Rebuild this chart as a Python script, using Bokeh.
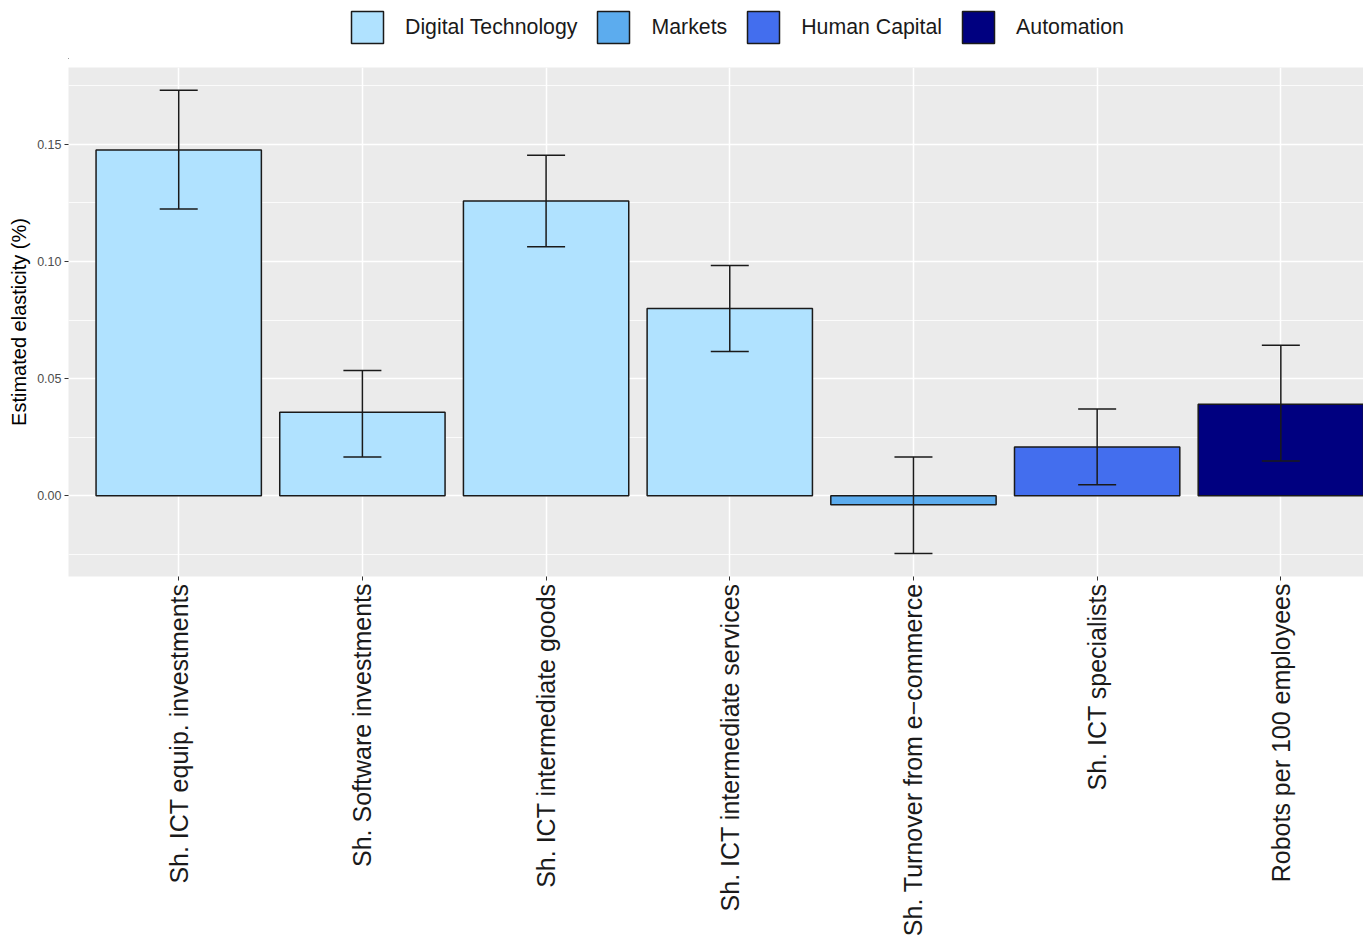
import numpy as np
from bokeh.plotting import figure
from bokeh.layouts import column
from bokeh.models import (ColumnDataSource, Whisker, TeeHead, Legend, LegendItem,
                          FixedTicker, NumeralTickFormatter)
from bokeh.embed import file_html
from bokeh.resources import INLINE

categories = ["Sh. ICT equip. investments", "Sh. Software investments",
              "Sh. ICT intermediate goods", "Sh. ICT intermediate services",
              "Sh. Turnover from e\u2212commerce", "Sh. ICT specialists",
              "Robots per 100 employees"]
groups = ["Digital Technology", "Digital Technology", "Digital Technology",
          "Digital Technology", "Markets", "Human Capital", "Automation"]
estimates = [0.1475, 0.0357, 0.1258, 0.0799, -0.0038, 0.0208, 0.0391]
lower = [0.1224, 0.0166, 0.1062, 0.0616, -0.0246, 0.0047, 0.0149]
upper = [0.1730, 0.0535, 0.1453, 0.0982, 0.0166, 0.0370, 0.0642]
group_names = ["Digital Technology", "Markets", "Human Capital", "Automation"]
group_colors = ["#B0E2FF", "#5CACEE", "#436EEE", "#000080"]

FONT = "Liberation Sans"
xs = list(range(1, len(categories) + 1))
color_map = dict(zip(group_names, group_colors))
src = ColumnDataSource(dict(x=xs, est=estimates, lo=lower, up=upper,
                            grp=groups, col=[color_map[g] for g in groups]))

# ---- legend strip (own figure so the legend is not clipped) ----
LEG_H = 59
lf = figure(width=1363, height=LEG_H, x_range=(100, 101), y_range=(100, 101),
            output_backend="svg", toolbar_location=None,
            x_axis_location=None, y_axis_location=None,
            min_border_left=0, min_border_right=0, min_border_top=0, min_border_bottom=0)
lf.outline_line_color = None
lf.grid.visible = False
lf.background_fill_color = "white"
lf.border_fill_color = "white"
leg_bars = lf.vbar(x="x", top="est", bottom=0, width=0.9, source=src,
                   fill_color="col", line_color="#1a1a1a", line_width=1.5)
items = [LegendItem(label=g, renderers=[leg_bars], index=groups.index(g)) for g in group_names]
legend = Legend(items=items, orientation="horizontal", location=(279, 12),
                glyph_width=40, glyph_height=40, label_standoff=18, spacing=16,
                label_text_font=FONT, label_text_font_size="21.3px",
                label_text_color="#1a1a1a", border_line_color=None,
                background_fill_color=None, padding=0, margin=0)
lf.add_layout(legend, "center")

# ---- main plot ----
p = figure(width=1363, height=939 - LEG_H, x_range=(0.4, 7.45), y_range=(-0.0344, 0.1827),
           output_backend="svg", toolbar_location=None,
           min_border_left=68, min_border_right=0, min_border_top=67 - LEG_H,
           min_border_bottom=361)
p.border_fill_color = "white"
p.outline_line_color = None
p.background_fill_color = "#EBEBEB"

bars = p.vbar(x="x", top="est", bottom=0, width=0.9, source=src,
              fill_color="col", line_color="#1a1a1a", line_width=1.5)

w = Whisker(base="x", upper="up", lower="lo", source=src, level="annotation",
            line_color="#1a1a1a", line_width=1.5,
            upper_head=TeeHead(size=38, line_color="#1a1a1a", line_width=1.5),
            lower_head=TeeHead(size=38, line_color="#1a1a1a", line_width=1.5))
p.add_layout(w)

# grids
p.xgrid.ticker = FixedTicker(ticks=xs)
p.xgrid.grid_line_color = "white"
p.xgrid.grid_line_width = 1.5
p.ygrid.ticker = FixedTicker(ticks=[0, 0.05, 0.10, 0.15],
                             minor_ticks=[-0.025, 0.025, 0.075, 0.125, 0.175])
p.ygrid.grid_line_color = "white"
p.ygrid.grid_line_width = 1.5
p.ygrid.minor_grid_line_color = "white"
p.ygrid.minor_grid_line_width = 0.8

# axes
p.xaxis.ticker = FixedTicker(ticks=xs)
p.xaxis.major_label_overrides = {x: c for x, c in zip(xs, categories)}
p.xaxis.major_label_orientation = np.pi / 2
p.xaxis.major_label_text_font = FONT
p.xaxis.major_label_text_font_size = "25px"
p.xaxis.major_label_text_color = "#1a1a1a"
p.xaxis.axis_line_color = None
p.xaxis.major_tick_line_color = "#333333"
p.xaxis.major_tick_out = 4
p.xaxis.major_tick_in = 0
p.xaxis.minor_tick_line_color = None
p.xaxis.major_label_standoff = 3

p.yaxis.ticker = FixedTicker(ticks=[0, 0.05, 0.10, 0.15])
p.yaxis.formatter = NumeralTickFormatter(format="0.00")
p.yaxis.major_label_text_font = FONT
p.yaxis.major_label_text_font_size = "12.5px"
p.yaxis.major_label_text_color = "#4D4D4D"
p.yaxis.axis_line_color = None
p.yaxis.major_tick_line_color = "#333333"
p.yaxis.major_tick_out = 4
p.yaxis.major_tick_in = 0
p.yaxis.minor_tick_line_color = None
p.yaxis.major_label_standoff = 3
p.yaxis.axis_label = "Estimated elasticity (%)"
p.yaxis.axis_label_text_font = FONT
p.yaxis.axis_label_text_font_size = "20px"
p.yaxis.axis_label_text_font_style = "normal"
p.yaxis.axis_label_text_color = "black"
p.yaxis.axis_label_standoff = 4

layout = column(lf, p, spacing=0)
open("out.html", "w").write(file_html(layout, INLINE))
